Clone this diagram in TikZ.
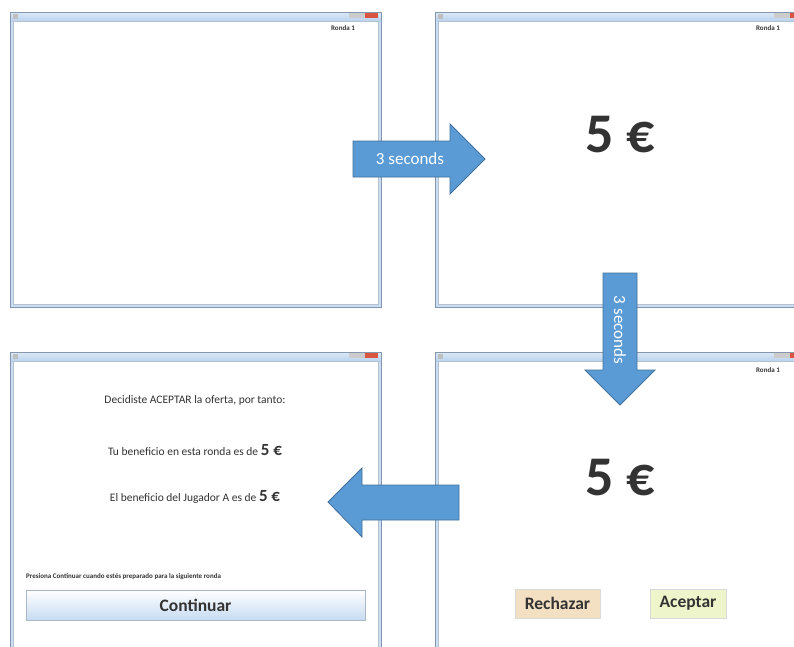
\documentclass[tikz,border=0pt]{standalone}
\usepackage{fontspec}
\setmainfont{Carlito}
\usetikzlibrary{positioning}

\definecolor{arrowblue}{HTML}{5B9BD5}
\definecolor{arrowedge}{HTML}{41719C}
\definecolor{frameblue}{HTML}{C9DDF3}
\definecolor{frameedge}{HTML}{8497AE}
\definecolor{titletop}{HTML}{DCE9F7}
\definecolor{titlebot}{HTML}{B9D3EF}
\definecolor{textgray}{HTML}{333333}
\definecolor{rejfill}{HTML}{F3DFC1}
\definecolor{accfill}{HTML}{EEF5CB}
\definecolor{closered}{HTML}{D9553F}

\begin{document}
\begin{tikzpicture}[x=1pt, y=-1pt, every node/.style={text=textgray},
	ronda/.style={font=\fontsize{7}{8}\selectfont\bfseries},
	bigamount/.style={font=\fontsize{56}{60}\selectfont\bfseries},
	msg/.style={font=\fontsize{11.5}{13}\selectfont},
	hint/.style={font=\fontsize{7}{8}\selectfont\bfseries, inner sep=0pt},
	choice/.style={draw=black!15, font=\fontsize{17.5}{19}\selectfont\bfseries, inner sep=0pt, minimum height=29pt},
	arrowshape/.style={fill=arrowblue, draw=arrowedge, line width=0.8pt, line join=miter},
	arrowtext/.style={text=white, font=\fontsize{17}{19}\selectfont}]
	\useasboundingbox (0,0) rectangle (794,646);
	\clip (0,0) rectangle (794,646);
	\fill[white] (0,0) rectangle (794,646);
	% the four screens
	\foreach \wx/\wy/\wr/\wb in {10/12/381/307, 435/12/806/307, 10/352/381/660, 435/352/806/660} {
		\fill[frameblue] (\wx,\wy) rectangle (\wr,\wb);
		\shade[top color=titletop, bottom color=titlebot] (\wx,\wy) rectangle (\wr,\wy+9);
		\draw[frameedge, line width=0.6pt] (\wx,\wy) rectangle (\wr,\wb);
		\fill[white] (\wx+3,\wy+9) rectangle (\wr-3,\wb-3);
		\draw[frameedge!60, line width=0.4pt] (\wx+3,\wy+9) rectangle (\wr-3,\wb-3);
		\fill[black!25] (\wx+3,\wy+2) rectangle (\wx+8,\wy+7);
		\fill[black!20] (\wr-32,\wy+1) rectangle (\wr-16,\wy+6);
		\fill[closered] (\wr-16,\wy+1) rectangle (\wr-3,\wy+6);
	}
	% screen 1
	\node[ronda] (ronda1) at (343,28) {Ronda 1};
	% screen 2
	\node[ronda] (ronda2) at (768,28) {Ronda 1};
	\node[bigamount] (amount2) at (620,135) {5 €};
	% screen 4
	\node[ronda] (ronda4) at (768,370) {Ronda 1};
	\node[bigamount] (amount4) at (620,478) {5 €};
	\node[choice, fill=rejfill, minimum width=85pt] (rechazar) at (557.5,603.5) {Rechazar};
	\node[choice, fill=accfill, minimum width=76pt] (aceptar) at (688,603.5) {Aceptar};
	% screen 3
	\node[msg] (decision) at (195,400) {Decidiste ACEPTAR la oferta, por tanto:};
	\node[msg] (own) at (195,450) {Tu beneficio en esta ronda es de {\fontsize{17}{19}\selectfont\bfseries 5 €}};
	\node[msg] (other) at (195,497) {El beneficio del Jugador A es de {\fontsize{17}{19}\selectfont\bfseries 5 €}};
	\node[hint, anchor=west] (hint) at (26,577) {Presiona Continuar cuando estés preparado para la siguiente ronda};
	\node[draw=frameedge!70, top color=white, bottom color=titlebot!80, minimum width=339pt, minimum height=30pt,
		font=\fontsize{17.5}{19}\selectfont\bfseries] (continuar) at (195.5,605) {Continuar};
	% timing arrows
	\draw[arrowshape] (353,141) -- (450,141) -- (450,124) -- (485,159) -- (450,194) -- (450,177) -- (353,177) -- cycle;
	\node[arrowtext] (wait1) at (410,159) {3 seconds};
	\draw[arrowshape] (603,273) -- (637,273) -- (637,370) -- (655,370) -- (620,405) -- (585,370) -- (603,370) -- cycle;
	\node[arrowtext, rotate=-90] (wait2) at (620,330) {3 seconds};
	\draw[arrowshape] (459,485) -- (362,485) -- (362,468) -- (328,502) -- (362,537) -- (362,520) -- (459,520) -- cycle;
\end{tikzpicture}
\end{document}
